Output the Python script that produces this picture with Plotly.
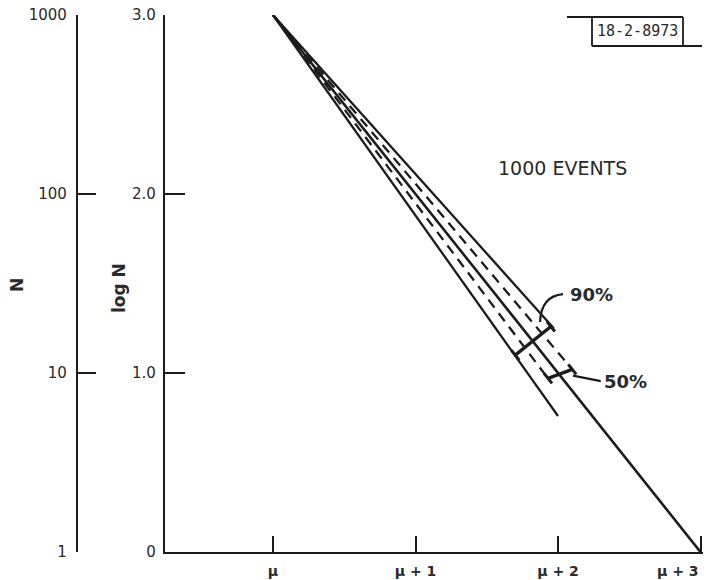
import plotly.graph_objects as go

# ---------------- data ----------------
x_tick_vals = [0, 1, 2, 3]
x_tick_labels = ["μ", "μ + 1", "μ + 2", "μ + 3"]
logn_tick_vals = [0, 1, 2, 3]
logn_tick_labels = ["0", "1.0", "2.0", "3.0"]
n_tick_vals = [1, 10, 100, 1000]
n_tick_labels = ["1", "10", "100", "1000"]

expected_x = [0, 3]
expected_logn = [3.0, 0.0]
upper90_x = [0, 1.97]
upper90_logn = [3.0, 1.25]
lower90_x = [0, 2.0]
lower90_logn = [3.0, 0.76]
upper50_x = [0, 2.10]
upper50_logn = [3.0, 1.02]
lower50_x = [0, 1.93]
lower50_logn = [3.0, 0.97]
bar90_x = [1.70, 1.95]
bar90_logn = [1.10, 1.26]
bar50_x = [1.93, 2.10]
bar50_logn = [0.97, 1.02]

INK = "#1c1c1c"
TXT = "#2a2a2a"
FONT = "DejaVu Sans"

fig = go.Figure()

def line(x, y, dash="solid", width=2.3):
    fig.add_trace(go.Scatter(x=x, y=y, mode="lines", cliponaxis=False,
                             line=dict(color=INK, width=width, dash=dash),
                             hoverinfo="skip", showlegend=False))

line(expected_x, expected_logn, width=2.6)
line(upper90_x, upper90_logn)
line(lower90_x, lower90_logn)
line(upper50_x, upper50_logn, dash="10px,7px")
line(lower50_x, lower50_logn, dash="10px,7px")

# confidence bars with end caps (caps along the line direction)
CAP = 0.028
for bx, by in ((bar90_x, bar90_logn), (bar50_x, bar50_logn)):
    line(bx, by, width=3.4)
    for xi, yi in zip(bx, by):
        line([xi - CAP, xi + CAP], [yi + CAP, yi - CAP], width=3)

# invisible trace to carry the N axis
fig.add_trace(go.Scatter(x=expected_x, y=[10 ** v for v in expected_logn],
                         yaxis="y2", mode="lines", line=dict(color="rgba(0,0,0,0)"),
                         hoverinfo="skip", showlegend=False))

# body margin is removed by the post script, so the figure fills the window
OFF = 0
W, H = 706 - OFF, 580 - OFF
L, T = 60 - OFF, 15 - OFF
B = H - (552 - OFF)
R = W - (703 - OFF)
pw = W - L - R
ph = H - T - B
x0_px = 165 - OFF
xdom0 = (x0_px - L) / pw
px_per_unit = 142.5
xr0 = -(273 - 165) / px_per_unit
xr1 = xr0 + (703 - 165) / px_per_unit

def ref2paper(rx, ry):
    return (rx - OFF - L) / pw, (H - B - (ry - OFF)) / ph

# the last x tick label sits at the right edge; it is drawn right-aligned as an annotation
axis_ticktext = x_tick_labels[:-1] + [""]

XFONT = dict(family=FONT, size=14, color=TXT, weight="bold")
fig.update_layout(
    width=W, height=H,
    margin=dict(l=L, r=R, t=T, b=B, autoexpand=False),
    paper_bgcolor="white", plot_bgcolor="white",
    font=dict(family=FONT, color=TXT),
    xaxis=dict(domain=[xdom0, 1], range=[xr0, xr1], showgrid=False, zeroline=False,
               showline=True, linecolor=INK, linewidth=2.2,
               tickmode="array", tickvals=x_tick_vals, ticktext=axis_ticktext,
               ticks="inside", ticklen=16, tickwidth=2.2, tickcolor=INK,
               ticklabelstandoff=5, ticklabeloverflow="allow",
               tickfont=XFONT),
    yaxis=dict(range=[0, 3], showgrid=False, zeroline=False,
               showline=True, linecolor=INK, linewidth=2.2,
               tickmode="array", tickvals=logn_tick_vals, ticktext=logn_tick_labels,
               ticks="inside", ticklen=20, tickwidth=2.2, tickcolor=INK,
               ticklabelstandoff=4, ticklabeloverflow="allow",
               tickfont=dict(family=FONT, size=15, color=TXT)),
    yaxis2=dict(type="log", range=[0, 3], overlaying="y", anchor="free",
                position=(77 - OFF - L) / pw, side="left",
                showgrid=False, zeroline=False,
                showline=True, linecolor=INK, linewidth=2.2,
                tickmode="array", tickvals=n_tick_vals, ticktext=n_tick_labels,
                ticks="inside", ticklen=18, tickwidth=2.2, tickcolor=INK,
                ticklabelstandoff=6, ticklabeloverflow="allow",
                tickfont=dict(family=FONT, size=15, color=TXT)),
)

def ann(text, x, y, xref, yref, size, angle=0, family=FONT):
    return dict(text=text, x=x, y=y, xref=xref, yref=yref, textangle=angle,
                showarrow=False, xanchor="center", yanchor="middle",
                font=dict(family=family, size=size, color=TXT))

nx, ny = ref2paper(17, 285)
lx, ly = ref2paper(119, 288)
bx, by = ref2paper(637, 31)
_, ty = ref2paper(0, 571)
anns = [
    ann("<b>N</b>", nx, ny, "paper", "paper", 17, -90),
    ann("<b>log N</b>", lx, ly, "paper", "paper", 17, -90),
    ann("1000 EVENTS", 2.035, 2.145, "x", "y", 19),
    ann("<b>90%</b>", 2.232, 1.436, "x", "y", 18),
    ann("<b>50%</b>", 2.477, 0.95, "x", "y", 18),
    ann("18-2-8973", bx, by, "paper", "paper", 15, 0, "DejaVu Sans Mono"),
    dict(text=x_tick_labels[-1], x=x_tick_vals[-1], y=ty, xref="x", yref="paper",
         xanchor="right", yanchor="middle", xshift=0, showarrow=False, font=XFONT),
]
fig.update_layout(annotations=anns)

shapes = [
    dict(type="path", path="M 1.874,1.285 Q 1.881,1.43 2.035,1.441",
         xref="x", yref="y", line=dict(color=INK, width=2.2)),
    dict(type="line", x0=2.105, y0=0.985, x1=2.30, y1=0.955,
         xref="x", yref="y", line=dict(color=INK, width=2.2)),
]
a = ref2paper(567, 17); b = ref2paper(683, 17); c = ref2paper(683, 46)
d = ref2paper(592, 17); e = ref2paper(592, 46); f = ref2paper(702, 46)
for p, q in ((a, b), (b, c), (d, e), (e, f)):
    shapes.append(dict(type="line", x0=p[0], y0=p[1], x1=q[0], y1=q[1],
                       xref="paper", yref="paper", line=dict(color=INK, width=1.8)))
fig.update_layout(shapes=shapes)

fig.write_html("out.html", config={"displayModeBar": False},
               post_script="document.body.style.margin='0';")
